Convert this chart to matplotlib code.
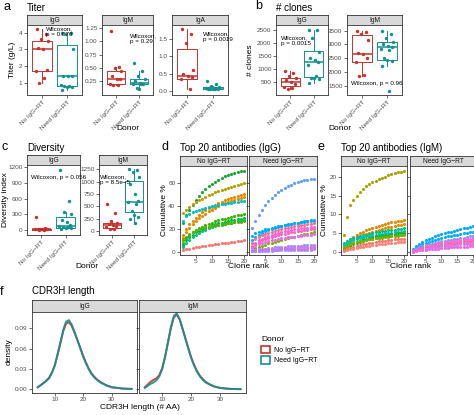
import numpy as np
import matplotlib.pyplot as plt
from matplotlib.patches import Patch

plt.rcParams['font.family'] = ['Liberation Sans', 'DejaVu Sans']

# ---- donneés ----
GROUPS = ['No IgG\u2212RT', 'Need IgG\u2212RT']

# a) Titer (g/L)
TITER_IGG_NO = [4.2, 3.9, 3.6, 3.5, 3.1, 3.05, 1.8, 1.75, 1.3, 1.0]
TITER_IGG_NEED = [4.0, 3.95, 3.9, 3.0, 1.45, 1.4, 1.4, 0.9, 0.85, 0.85, 0.8, 0.75, 0.6]
TITER_IGM_NO = [1.2, 0.52, 0.5, 0.45, 0.35, 0.3, 0.3, 0.2, 0.18, 0.18]
TITER_IGM_NEED = [0.6, 0.45, 0.35, 0.3, 0.25, 0.22, 0.2, 0.2, 0.2, 0.12, 0.1]
TITER_IGA_NO = [1.8, 1.65, 1.4, 0.6, 0.5, 0.42, 0.4, 0.35, 0.05]
TITER_IGA_NEED = [0.3, 0.2, 0.15, 0.1, 0.08, 0.08, 0.07, 0.07, 0.06, 0.06, 0.05, 0.05, 0.04]
# stats des boites : (bas moustache, q1, mediane, q3, haut moustache)
TITER_IGG_BOX = [(1.0, 1.7, 3.05, 3.5, 4.2), (0.6, 0.82, 1.42, 3.25, 4.0)]
TITER_IGM_BOX = [(0.18, 0.19, 0.30, 0.44, 0.52), (0.1, 0.19, 0.21, 0.30, 0.45)]
TITER_IGA_BOX = [(0.05, 0.33, 0.42, 1.2, 1.8), (0.04, 0.06, 0.08, 0.1, 0.15)]

# b) # clones
CLONES_IGG_NO = [900, 850, 700, 650, 550, 500, 400, 300, 250, 200]
CLONES_IGG_NEED = [2500, 2480, 2200, 1650, 1400, 1350, 1250, 1150, 700, 650, 650, 600, 450]
CLONES_IGM_NO = [3480, 3450, 3400, 3150, 2700, 2650, 2500, 2350, 1900, 1850]
CLONES_IGM_NEED = [3500, 3400, 3250, 3100, 3000, 2950, 2900, 2850, 2800, 2500, 2450, 2400, 2200, 1300]
CLONES_IGG_BOX = [(200, 340, 480, 650, 900), (450, 680, 1250, 1700, 2500)]
CLONES_IGM_BOX = [(1850, 2380, 2640, 3350, 3480), (2200, 2440, 2900, 3080, 3500)]

# c) Diversity index
DIV_IGG_NO = [250, 30, 25, 20, 15, 15, 10, 10, 5, 5]
DIV_IGG_NEED = [1150, 550, 350, 300, 200, 150, 100, 80, 60, 50, 40, 30, 20]
DIV_IGM_NO = [540, 370, 200, 160, 150, 120, 100, 80, 50, 40]
DIV_IGM_NEED = [1250, 1230, 1200, 1100, 950, 750, 600, 580, 550, 400, 320, 280, 250, 170]
DIV_IGG_BOX = [(5, 8, 15, 25, 30), (20, 40, 70, 240, 350)]
DIV_IGM_BOX = [(40, 65, 130, 165, 200), (170, 390, 580, 1020, 1250)]

# d) Top 20 antibodies (IgG) : % cumule par rang
RANKS = list(range(1, 21))
TOP_IGG_NO = [
    [25, 32, 37, 41, 45, 49, 52, 55, 57.5, 59.5, 61.5, 63, 64.5, 66, 67, 68, 69, 70, 70.5, 71],
    [34, 37, 39.5, 41.5, 43.5, 45, 46.5, 48, 49.5, 51, 52, 53, 54, 55, 56, 57, 58, 58.8, 59.5, 60.3],
    [15, 20, 24, 27, 30, 32.5, 34.5, 36.5, 38, 39.5, 41, 42.5, 43.5, 45, 46, 47, 48, 49, 49.8, 50.5],
    [12, 17, 21, 24.5, 27, 29.5, 31.5, 33.5, 35.5, 37, 38.5, 40, 41.5, 42.5, 43.5, 44.5, 45.5, 46.5, 47.3, 48],
    [27, 31, 33, 34.5, 35.5, 36.5, 37.5, 38.3, 39, 39.7, 40.3, 41, 41.5, 42, 42.5, 43, 43.4, 43.8, 44.2, 44.6],
    [8, 12, 15, 17, 19, 20.5, 22, 23.5, 24.5, 25.5, 26.5, 27.5, 28.3, 29, 29.8, 30.5, 31.2, 31.8, 32.5, 33],
    [6, 10, 13, 15, 17, 18.5, 20, 21, 22, 23, 24, 24.8, 25.5, 26.2, 26.8, 27.4, 28, 28.5, 29, 29.5],
    [4, 7.5, 10.5, 13, 15, 16.5, 18, 19.3, 20.4, 21.4, 22.3, 23, 23.7, 24.3, 24.9, 25.5, 26, 26.5, 27, 27.4],
    [10, 13, 15.5, 17, 18.5, 19.5, 20.5, 21.3, 22, 22.6, 23.2, 23.7, 24.2, 24.6, 25, 25.4, 25.8, 26.1, 26.4, 26.7],
    [1.5, 2.2, 2.8, 3.3, 3.8, 4.3, 4.8, 5.2, 5.6, 6, 6.4, 6.8, 7.2, 7.6, 8, 8.4, 8.8, 9.2, 9.6, 10],
]
TOP_IGG_NO_COLORS = ['#1AA834', '#B79F00', '#E58700', '#DE8C00', '#00BFC4',
                     '#39B600', '#00BA38', '#00C08B', '#53B400', '#F8766D']
TOP_IGG_NEED = [
    [21, 27, 32, 37, 41, 44.5, 47.5, 50, 52.5, 54.5, 56, 57.5, 58.8, 60, 61, 61.8, 62.5, 63, 63.4, 63.8],
    [10, 13, 15, 16.5, 18, 19, 20, 21, 21.8, 22.5, 23.2, 23.8, 24.4, 25, 25.5, 26, 26.5, 27, 27.5, 28],
    [14, 16, 17.5, 18.5, 19.5, 20.3, 21, 21.7, 22.3, 22.9, 23.4, 23.9, 24.4, 24.9, 25.3, 25.7, 26.1, 26.5, 26.9, 27.2],
    [8, 11, 13, 14.5, 15.8, 16.8, 17.7, 18.5, 19.2, 19.9, 20.5, 21.1, 21.7, 22.2, 22.7, 23.2, 23.7, 24.2, 24.6, 25],
    [5, 8, 10, 11.5, 12.8, 14, 15, 15.8, 16.5, 17.2, 17.8, 18.4, 19, 19.5, 20, 20.4, 20.8, 21.2, 21.6, 22],
    [4, 6.5, 8.5, 10, 11.2, 12.3, 13.2, 14, 14.7, 15.3, 15.9, 16.4, 16.9, 17.4, 17.9, 18.3, 18.7, 19.1, 19.5, 19.9],
    [1.5, 3, 4.2, 5.3, 6.3, 7.2, 8, 8.8, 9.6, 10.4, 11.1, 11.8, 12.5, 13.2, 13.8, 14.5, 15.1, 15.7, 16.3, 16.9],
    [3, 5, 6.5, 7.7, 8.6, 9.4, 10.1, 10.7, 11.2, 11.7, 12.1, 12.5, 12.9, 13.3, 13.7, 14, 14.3, 14.6, 14.9, 15.2],
    [1, 1.5, 2, 2.4, 2.8, 3.1, 3.4, 3.7, 4, 4.2, 4.4, 4.6, 4.8, 5, 5.2, 5.4, 5.6, 5.8, 5.9, 6.1],
    [0.8, 1.2, 1.5, 1.8, 2.1, 2.3, 2.5, 2.7, 2.9, 3.1, 3.2, 3.4, 3.5, 3.7, 3.8, 4, 4.1, 4.3, 4.4, 4.5],
    [0.5, 0.8, 1, 1.2, 1.4, 1.5, 1.7, 1.8, 1.9, 2, 2.1, 2.2, 2.3, 2.4, 2.5, 2.6, 2.7, 2.8, 2.9, 3],
    [0.3, 0.5, 0.6, 0.7, 0.8, 0.9, 1, 1.1, 1.2, 1.3, 1.4, 1.5, 1.5, 1.6, 1.7, 1.7, 1.8, 1.9, 1.9, 2],
]
TOP_IGG_NEED_COLORS = ['#619CFF', '#00B0F6', '#00A9FF', '#FF6C91', '#F564E3', '#FF62BC',
                       '#7CAE00', '#E76BF3', '#9590FF', '#C77CFF', '#FF61C3', '#A58AFF']

# e) Top 20 antibodies (IgM)
TOP_IGM_NO = [
    [4.7, 9.3, 12.4, 13.8, 15, 16, 16.8, 17.5, 18, 18.5, 18.9, 19.3, 19.7, 20, 20.3, 20.6, 20.9, 21.1, 21.3, 21.5],
    [1.5, 2.5, 3.3, 4, 4.6, 5.1, 5.5, 5.9, 6.2, 6.5, 6.8, 7, 7.3, 7.5, 7.7, 7.9, 8.1, 8.2, 8.4, 8.5],
    [1.2, 2, 2.7, 3.2, 3.7, 4.1, 4.5, 4.8, 5.1, 5.4, 5.7, 6, 6.2, 6.4, 6.6, 6.8, 7, 7.1, 7.3, 7.4],
    [2.5, 3, 3.4, 3.7, 4, 4.3, 4.5, 4.7, 4.9, 5.1, 5.3, 5.4, 5.6, 5.7, 5.8, 5.9, 6, 6.1, 6.2, 6.3],
    [2, 2.6, 3, 3.3, 3.6, 3.8, 4, 4.2, 4.4, 4.5, 4.7, 4.8, 4.9, 5, 5.1, 5.2, 5.3, 5.4, 5.5, 5.6],
    [1, 1.6, 2.1, 2.5, 2.8, 3.1, 3.4, 3.6, 3.8, 4, 4.2, 4.3, 4.5, 4.6, 4.7, 4.8, 4.9, 5, 5.1, 5.2],
    [0.8, 1.3, 1.7, 2.1, 2.4, 2.7, 3, 3.2, 3.4, 3.6, 3.8, 3.9, 4.1, 4.2, 4.3, 4.4, 4.5, 4.6, 4.7, 4.8],
    [1.3, 1.8, 2.2, 2.5, 2.7, 2.9, 3.1, 3.3, 3.4, 3.6, 3.7, 3.8, 3.9, 4, 4.1, 4.2, 4.3, 4.4, 4.5, 4.6],
    [0.5, 0.9, 1.2, 1.5, 1.7, 1.9, 2.1, 2.3, 2.5, 2.6, 2.8, 2.9, 3, 3.1, 3.2, 3.3, 3.4, 3.5, 3.6, 3.6],
    [0.3, 0.6, 0.8, 1, 1.2, 1.4, 1.5, 1.6, 1.8, 1.9, 2, 2.1, 2.2, 2.3, 2.4, 2.5, 2.6, 2.7, 2.7, 2.8],
]
TOP_IGM_NO_COLORS = ['#A3A500', '#E58700', '#DE8C00', '#00BF7D', '#00BFC4',
                     '#00BA38', '#39B600', '#7CAE00', '#F8766D', '#FF7F70']
TOP_IGM_NEED = [
    [0.8, 1.6, 2.3, 2.8, 3.2, 3.6, 3.9, 4.2, 4.5, 4.8, 5, 5.3, 5.5, 5.7, 5.9, 6.1, 6.3, 6.5, 6.7, 6.9],
    [0.6, 1.2, 1.7, 2.1, 2.5, 2.8, 3.1, 3.3, 3.5, 3.8, 4, 4.2, 4.4, 4.5, 4.7, 4.9, 5, 5.2, 5.3, 5.5],
    [0.5, 0.9, 1.3, 1.6, 1.9, 2.1, 2.3, 2.5, 2.7, 2.9, 3, 3.2, 3.3, 3.5, 3.6, 3.8, 3.9, 4, 4.2, 4.3],
    [0.4, 0.8, 1.1, 1.4, 1.6, 1.8, 2, 2.2, 2.4, 2.5, 2.7, 2.8, 3, 3.1, 3.2, 3.3, 3.4, 3.5, 3.6, 3.7],
    [0.3, 0.6, 0.9, 1.1, 1.3, 1.5, 1.7, 1.8, 2, 2.1, 2.3, 2.4, 2.5, 2.6, 2.7, 2.8, 2.9, 3, 3.1, 3.2],
    [0.4, 0.7, 0.9, 1.1, 1.3, 1.4, 1.6, 1.7, 1.8, 1.9, 2, 2.1, 2.2, 2.3, 2.4, 2.5, 2.6, 2.6, 2.7, 2.8],
    [0.3, 0.5, 0.7, 0.9, 1, 1.1, 1.3, 1.4, 1.5, 1.6, 1.7, 1.8, 1.8, 1.9, 2, 2.1, 2.1, 2.2, 2.3, 2.3],
    [0.2, 0.4, 0.5, 0.6, 0.7, 0.8, 0.9, 1, 1, 1.1, 1.2, 1.2, 1.3, 1.3, 1.4, 1.4, 1.5, 1.5, 1.6, 1.6],
]
TOP_IGM_NEED_COLORS = ['#00A9FF', '#00B0F6', '#9590FF', '#E76BF3', '#FF62BC',
                       '#FF6C91', '#C77CFF', '#F564E3']

# f) CDR3H length density
DENS_X = [4, 5, 6, 7, 8, 9, 10, 11, 12, 13, 14, 15, 16, 17, 18, 19, 20,
          21, 22, 23, 24, 25, 26, 28, 30, 32, 34, 37]
DENS_IGG_NO = [0.003, 0.006, 0.009, 0.013, 0.017, 0.025, 0.035, 0.051, 0.068, 0.086, 0.097, 0.099,
               0.093, 0.083, 0.072, 0.061, 0.049, 0.039, 0.030, 0.023, 0.018, 0.014, 0.011, 0.006,
               0.003, 0.002, 0.001, 0.0005]
DENS_IGG_NEED = [0.003, 0.006, 0.009, 0.012, 0.016, 0.024, 0.035, 0.052, 0.070, 0.088, 0.100, 0.102,
                 0.095, 0.084, 0.072, 0.060, 0.048, 0.038, 0.029, 0.022, 0.017, 0.013, 0.010, 0.006,
                 0.003, 0.002, 0.001, 0.0005]
DENS_IGM_NO = [0.003, 0.007, 0.011, 0.014, 0.016, 0.021, 0.031, 0.048, 0.069, 0.090, 0.106, 0.110,
               0.103, 0.089, 0.075, 0.061, 0.047, 0.036, 0.027, 0.020, 0.015, 0.011, 0.008, 0.004,
               0.002, 0.001, 0.0005, 0.0002]
DENS_IGM_NEED = [0.002, 0.005, 0.008, 0.010, 0.013, 0.019, 0.030, 0.048, 0.070, 0.092, 0.108, 0.112,
                 0.104, 0.090, 0.075, 0.060, 0.046, 0.035, 0.026, 0.019, 0.014, 0.010, 0.008, 0.004,
                 0.002, 0.001, 0.0005, 0.0002]

# ---- mise en page (pixels) ----
W, H = 474, 415
RED = '#C4342D'
TEAL = '#14918F'
JIT = [-0.22, 0.14, -0.06, 0.24, -0.16, 0.04, 0.19, -0.26, 0.09, -0.11, 0.0, 0.21, -0.19, 0.07]

fig = plt.figure(figsize=(W / 100, H / 100), dpi=100)


def ax_px(l, t, r, b):
    return fig.add_axes([l / W, 1 - b / H, (r - l) / W, (b - t) / H])


def style(ax):
    for s in ax.spines.values():
        s.set_color('#333333')
        s.set_linewidth(0.6)
    ax.tick_params(labelsize=4.6, color='#333333', labelcolor='#4D4D4D', length=2, width=0.5, pad=1.2)


def strip(l, r, t, b, label):
    s = ax_px(l, t, r, b)
    s.set_facecolor('#D9D9D9')
    s.set_xticks([])
    s.set_yticks([])
    for sp in s.spines.values():
        sp.set_color('#333333')
        sp.set_linewidth(0.6)
    s.text(0.5, 0.45, label, ha='center', va='center', fontsize=4.8, color='#1A1A1A', transform=s.transAxes)


def txt(x, y, s, **kw):
    fig.text(x / W, 1 - y / H, s, **kw)


def box_panel(l, r, t, b, label, no_pts, need_pts, stats, ylim, yticks, yticklabels):
    strip(l, r, t - 10, t, label)
    ax = ax_px(l, t, r, b)
    style(ax)
    for i, (pts, c) in enumerate([(no_pts, RED), (need_pts, TEAL)]):
        st = stats[i]
        q = dict(whislo=st[0], q1=st[1], med=st[2], q3=st[3], whishi=st[4], fliers=[])
        ax.bxp([q], positions=[i + 1], widths=0.8, showfliers=False, showcaps=False,
               boxprops=dict(color=c, lw=0.7), whiskerprops=dict(color=c, lw=0.7),
               medianprops=dict(color=c, lw=1.1))
        ax.scatter(np.array(JIT[:len(pts)]) + i + 1, pts, s=6, color=c, lw=0, zorder=3)
    ax.set_xlim(0.4, 2.6)
    ax.set_ylim(*ylim)
    ax.set_yticks(yticks)
    ax.set_yticklabels(yticklabels)
    ax.set_xticks([1, 2])
    ax.set_xticklabels(GROUPS, rotation=45, ha='right', rotation_mode='anchor')
    return ax


def curve_panel(l, r, t, b, label, curves, colors, ylim, yticks):
    strip(l, r, t - 10, t, label)
    ax = ax_px(l, t, r, b)
    style(ax)
    for vals, c in zip(curves, colors):
        ax.scatter(RANKS, vals, s=5, color=c, lw=0)
    ax.set_xlim(0.05, 20.95)
    ax.set_ylim(*ylim)
    ax.set_xticks([5, 10, 15, 20])
    ax.set_yticks(yticks)
    return ax


def dens_panel(l, r, t, b, label, no_vals, need_vals):
    strip(l, r, t - 12, t, label)
    ax = ax_px(l, t, r, b)
    style(ax)
    ax.plot(DENS_X, no_vals, color=RED, lw=1.4, alpha=0.9)
    ax.plot(DENS_X, need_vals, color=TEAL, lw=1.4, alpha=0.9)
    ax.set_xlim(2.0, 38.9)
    ax.set_ylim(-0.0055, 0.114)
    ax.set_xticks([10, 20, 30])
    ax.set_yticks([0, 0.03, 0.06, 0.09])
    return ax


note = dict(fontsize=4.5, color='black', va='top', ha='left', linespacing=1.1)
title = dict(fontsize=7, color='black', va='center', ha='left')
letter = dict(fontsize=9, color='black', va='center', ha='left')
axlab = dict(fontsize=6, color='black', ha='center', va='center')

# a) Titer
ax = box_panel(27, 82, 25, 95, 'IgG', TITER_IGG_NO, TITER_IGG_NEED, TITER_IGG_BOX,
               (0.3, 4.45), [1, 2, 3, 4], ['1', '2', '3', '4'])
ax.text(1.15, 4.35, 'Wilcoxon,\np = 0.076', **note)
ax = box_panel(102, 153, 25, 95, 'IgM', TITER_IGM_NO, TITER_IGM_NEED, TITER_IGM_BOX,
               (-0.01, 1.31), [0.25, 0.5, 0.75, 1.0, 1.25], ['0.25', '0.50', '0.75', '1.00', '1.25'])
ax.text(1.6, 1.15, 'Wilcoxon,\np = 0.29', **note)
ax = box_panel(172, 228, 25, 95, 'IgA', TITER_IGA_NO, TITER_IGA_NEED, TITER_IGA_BOX,
               (-0.12, 1.91), [0, 0.5, 1.0, 1.5], ['0.0', '0.5', '1.0', '1.5'])
ax.text(1.6, 1.72, 'Wilcoxon,\np = 0.0019', **note)
txt(3, 7, 'a', **letter)
txt(27, 8, 'Titer', **title)
txt(12, 60, 'Titer (g/L)', rotation=90, **axlab)
txt(128, 128, 'Donor', **axlab)

# b) # clones
ax = box_panel(276, 328, 25, 95, 'IgG', CLONES_IGG_NO, CLONES_IGG_NEED, CLONES_IGG_BOX,
               (-20, 2690), [500, 1000, 1500, 2000, 2500], ['500', '1000', '1500', '2000', '2500'])
ax.text(0.6, 2280, 'Wilcoxon,\np = 0.0015', **note)
ax = box_panel(347, 402, 25, 95, 'IgM', CLONES_IGM_NO, CLONES_IGM_NEED, CLONES_IGM_BOX,
               (1160, 3710), [1500, 2000, 2500, 3000, 3500], ['1500', '2000', '2500', '3000', '3500'])
ax.text(0.55, 1680, 'Wilcoxon, p = 0.96', **note)
txt(255, 6, 'b', **letter)
txt(276, 8, '# clones', **title)
txt(250, 60, '# clones', rotation=90, **axlab)
txt(340, 128, 'Donor', **axlab)

# c) Diversity
ax = box_panel(27, 80, 165, 235, 'IgG', DIV_IGG_NO, DIV_IGG_NEED, DIV_IGG_BOX,
               (-96, 1244), [0, 300, 600, 900, 1200], ['0', '300', '600', '900', '1200'])
ax.text(0.55, 1060, 'Wilcoxon, p = 0.056', **note)
ax = box_panel(99, 147, 165, 235, 'IgM', DIV_IGM_NO, DIV_IGM_NEED, DIV_IGM_BOX,
               (-81, 1337), [0, 250, 500, 750, 1000, 1250], ['0', '250', '500', '750', '1000', '1250'])
ax.text(0.45, 1150, 'Wilcoxon,\np = 8.5e\u22125', **note)
txt(2, 147, 'c', **letter)
txt(27, 148, 'Diversity', **title)
txt(6, 200, 'Diversity index', rotation=90, **axlab)
txt(87, 267, 'Donor', **axlab)

# d) Top 20 IgG
curve_panel(180, 247, 166, 255, 'No IgG\u2212RT', TOP_IGG_NO, TOP_IGG_NO_COLORS, (-2.9, 75.2), [0, 20, 40, 60])
ax = curve_panel(249, 317, 166, 255, 'Need IgG\u2212RT', TOP_IGG_NEED, TOP_IGG_NEED_COLORS, (-2.9, 75.2), [])
ax.set_yticks([0, 20, 40, 60])
ax.set_yticklabels([])
txt(161, 147, 'd', **letter)
txt(180, 148, 'Top 20 antibodies (IgG)', **title)
txt(164, 210, 'Cumulative %', rotation=90, **axlab)
txt(248, 267, 'Clone rank', **axlab)

# e) Top 20 IgM
curve_panel(341, 407, 166, 255, 'No IgG\u2212RT', TOP_IGM_NO, TOP_IGM_NO_COLORS, (-0.7, 22.8), [0, 5, 10, 15, 20])
ax = curve_panel(410, 476, 166, 255, 'Need IgG\u2212RT', TOP_IGM_NEED, TOP_IGM_NEED_COLORS, (-0.7, 22.8), [])
ax.set_yticks([0, 5, 10, 15, 20])
ax.set_yticklabels([])
txt(317, 147, 'e', **letter)
txt(341, 148, 'Top 20 antibodies (IgM)', **title)
txt(324, 210, 'Cumulative %', rotation=90, **axlab)
txt(410, 267, 'Clone rank', **axlab)

# f) CDR3H length
dens_panel(32, 137, 312, 393, 'IgG', DENS_IGG_NO, DENS_IGG_NEED)
ax = dens_panel(139, 246, 312, 393, 'IgM', DENS_IGM_NO, DENS_IGM_NEED)
ax.set_yticklabels([])
txt(0, 292, 'f', **letter)
txt(32, 291, 'CDR3H length', **title)
txt(9, 352, 'density', rotation=90, **axlab)
txt(140, 407, 'CDR3H length (# AA)', **axlab)

handles = [Patch(facecolor='white', edgecolor=RED, lw=1.2, label=GROUPS[0]),
           Patch(facecolor='white', edgecolor=TEAL, lw=1.2, label=GROUPS[1])]
leg = fig.legend(handles=handles, title='Donor', loc='upper left', bbox_to_anchor=(255 / W, 1 - 330 / H),
                 frameon=False, fontsize=5, title_fontsize=6, alignment='left',
                 handlelength=1.3, handleheight=1.3, handletextpad=0.6, labelspacing=0.35)

fig.savefig('out.png', dpi=100)
